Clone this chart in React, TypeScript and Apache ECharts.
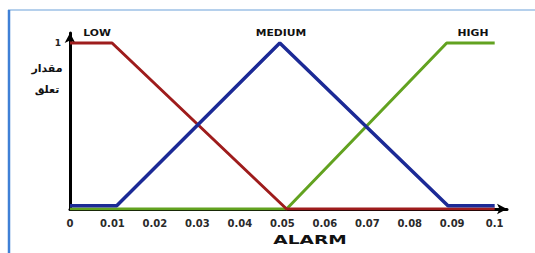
import React, { useEffect, useRef } from "react";
import * as echarts from "echarts";

const xTickLabels = ["0", "0.01", "0.02", "0.03", "0.04", "0.05", "0.06", "0.07", "0.08", "0.09", "0.1"];
const lowX = [0, 0.0099, 0.051, 0.1];
const lowY = [1, 1, 0, 0];
const mediumX = [0, 0.011, 0.0494, 0.089, 0.1];
const mediumY = [0.02, 0.02, 1, 0.02, 0.02];
const highX = [0, 0.051, 0.0887, 0.1];
const highY = [0, 0, 1, 1];
const seriesNames = ["LOW", "MEDIUM", "HIGH"];
const yLabelLines = ["مقدار", "تعلق"];
const xAxisTitle = "ALARM";

const zip = (xs: number[], ys: number[]) => xs.map((x, i) => [x, ys[i]]);

export default function App() {
  const ref = useRef<HTMLDivElement>(null);
  useEffect(() => {
    if (!ref.current) return;
    const chart = echarts.init(ref.current, null, { renderer: "svg" });
    const wide = "DejaVu Sans, Verdana, sans-serif";
    const seriesLabel = (text: string, x: number) => ({
      type: "text",
      x,
      y: 33,
      scaleX: 1.35,
      style: { text, fontSize: 8, fontWeight: "bold", fontFamily: wide, fill: "#111", align: "center", verticalAlign: "middle" },
    });
    chart.setOption({
      animation: false,
      backgroundColor: "#ffffff",
      grid: { left: 70, right: 28, top: 33, bottom: 44, containLabel: false },
      xAxis: {
        type: "value",
        min: 0,
        max: 0.1029,
        interval: 0.01,
        splitLine: { show: false },
        axisTick: { show: false },
        axisLine: {
          show: true,
          lineStyle: { color: "#000", width: 3 },
          symbol: ["none", "arrow"],
          symbolSize: [8, 10],
        },
        axisLabel: {
          margin: 9,
          color: "#2a2a2a",
          fontSize: 10,
          fontWeight: "bold",
          fontFamily: wide,
          showMaxLabel: false,
          formatter: (v: number) => {
            const i = Math.round(v * 100);
            return Math.abs(v * 100 - i) < 1e-6 && i >= 0 && i < xTickLabels.length ? xTickLabels[i] : "";
          },
        },
      },
      yAxis: {
        type: "value",
        min: 0,
        max: 1.06,
        interval: 1,
        splitLine: { show: false },
        axisTick: { show: false },
        axisLine: {
          show: true,
          lineStyle: { color: "#000", width: 3 },
          symbol: ["none", "arrow"],
          symbolSize: [8, 10],
        },
        axisLabel: {
          margin: 9,
          color: "#222",
          fontSize: 9,
          fontWeight: "bold",
          fontFamily: wide,
          formatter: (v: number) => (v === 1 ? "1" : ""),
        },
      },
      series: [
        {
          name: seriesNames[2],
          type: "line",
          data: zip(highX, highY),
          symbol: "none",
          lineStyle: { color: "#62a220", width: 3 },
          z: 2,
        },
        {
          name: seriesNames[0],
          type: "line",
          data: zip(lowX, lowY),
          symbol: "none",
          lineStyle: { color: "#9e1c1c", width: 3 },
          z: 3,
        },
        {
          name: seriesNames[1],
          type: "line",
          data: zip(mediumX, mediumY),
          symbol: "none",
          lineStyle: { color: "#1c2a96", width: 3.5 },
          z: 4,
        },
      ],
      graphic: [
        { type: "line", shape: { x1: 8, y1: 10, x2: 535, y2: 10 }, style: { stroke: "#9dc0e6", lineWidth: 1.5 } },
        { type: "line", shape: { x1: 9, y1: 10, x2: 9, y2: 253 }, style: { stroke: "#3f80d6", lineWidth: 2.5 } },
        seriesLabel(seriesNames[0], 97),
        seriesLabel(seriesNames[1], 281),
        seriesLabel(seriesNames[2], 473),
        { type: "text", x: 47, y: 67, style: { text: yLabelLines[0], fontSize: 11, fontWeight: "bold", fontFamily: "Noto Sans, DejaVu Sans, sans-serif", fill: "#111", align: "center", verticalAlign: "middle" } },
        { type: "text", x: 47, y: 88, style: { text: yLabelLines[1], fontSize: 11, fontWeight: "bold", fontFamily: "Noto Sans, DejaVu Sans, sans-serif", fill: "#111", align: "center", verticalAlign: "middle" } },
        { type: "text", x: 310, y: 240, scaleX: 1.55, style: { text: xAxisTitle, fontSize: 12, fontWeight: "bold", fontFamily: wide, fill: "#111", align: "center", verticalAlign: "middle" } },
      ],
    });
    return () => chart.dispose();
  }, []);
  return <div ref={ref} style={{ position: "absolute", left: 0, top: 0, width: 535, height: 253 }} />;
}
